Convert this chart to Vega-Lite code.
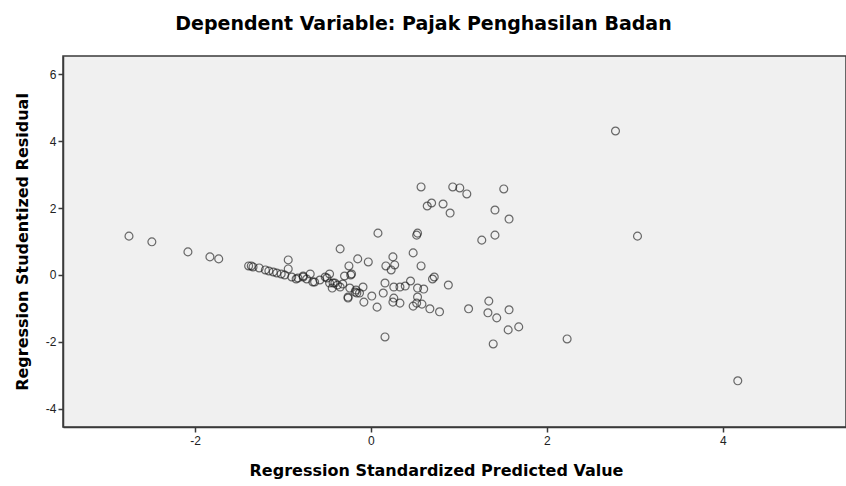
{
  "$schema": "https://vega.github.io/schema/vega-lite/v6.json",
  "width": 783,
  "height": 371,
  "autosize": {"type": "none"},
  "padding": {"left": 63, "top": 56, "right": 0, "bottom": 59},
  "background": "white",
  "title": {
    "text": "Dependent Variable: Pajak Penghasilan Badan",
    "font": "DejaVu Sans",
    "fontSize": 19,
    "fontWeight": "bold",
    "color": "#000000",
    "anchor": "middle",
    "frame": "group",
    "dx": -31,
    "offset": 22
  },
  "config": {
    "view": {"fill": "#f0f0f0", "stroke": "#3a3a3a", "strokeWidth": 1.5},
    "axis": {
      "labelFont": "Liberation Sans",
      "labelFontSize": 12,
      "labelColor": "#222222",
      "titleFont": "DejaVu Sans",
      "titleFontWeight": "bold",
      "titleColor": "#000000",
      "grid": false,
      "domainColor": "#3a3a3a",
      "domainWidth": 1.5,
      "tickColor": "#3a3a3a",
      "tickWidth": 1.5,
      "tickSize": 5,
      "labelExpr": "'' + datum.value"
    }
  },
  "data": {
    "values": [
      {"pred": -2.75, "resid": 1.16}, {"pred": -2.49, "resid": 0.99}, {"pred": -2.08, "resid": 0.69},
      {"pred": -1.83, "resid": 0.54}, {"pred": -1.73, "resid": 0.48}, {"pred": -1.39, "resid": 0.27},
      {"pred": -1.36, "resid": 0.27}, {"pred": -1.34, "resid": 0.24}, {"pred": -1.27, "resid": 0.21},
      {"pred": -1.16, "resid": 0.12}, {"pred": -1.11, "resid": 0.09}, {"pred": -1.07, "resid": 0.06},
      {"pred": -1.02, "resid": 0.03}, {"pred": -0.98, "resid": 0.0}, {"pred": -0.94, "resid": 0.45},
      {"pred": -0.94, "resid": 0.18}, {"pred": -0.83, "resid": -0.09}, {"pred": -0.77, "resid": -0.06},
      {"pred": -0.77, "resid": -0.03}, {"pred": -0.69, "resid": 0.03}, {"pred": -0.66, "resid": -0.21},
      {"pred": -0.64, "resid": -0.21}, {"pred": -0.52, "resid": -0.06}, {"pred": -0.5, "resid": -0.09},
      {"pred": -0.47, "resid": 0.03}, {"pred": -0.44, "resid": -0.39}, {"pred": -0.43, "resid": -0.24},
      {"pred": -0.41, "resid": -0.24}, {"pred": -0.35, "resid": 0.78}, {"pred": -0.35, "resid": -0.36},
      {"pred": -0.3, "resid": -0.03}, {"pred": -0.25, "resid": 0.27}, {"pred": -0.23, "resid": 0.0},
      {"pred": -0.22, "resid": 0.03}, {"pred": -0.24, "resid": -0.39}, {"pred": -0.18, "resid": -0.51},
      {"pred": -0.16, "resid": -0.54}, {"pred": -0.15, "resid": 0.48}, {"pred": -0.13, "resid": -0.54},
      {"pred": -0.09, "resid": -0.36}, {"pred": -0.08, "resid": -0.81}, {"pred": -0.03, "resid": 0.39},
      {"pred": 0.01, "resid": -0.63}, {"pred": 0.08, "resid": 1.25}, {"pred": 0.07, "resid": -0.96},
      {"pred": 0.14, "resid": -0.54}, {"pred": 0.16, "resid": -0.24}, {"pred": 0.17, "resid": 0.27},
      {"pred": 0.23, "resid": 0.15}, {"pred": 0.25, "resid": 0.54}, {"pred": 0.27, "resid": 0.3},
      {"pred": 0.26, "resid": -0.36}, {"pred": 0.25, "resid": -0.81}, {"pred": 0.26, "resid": -0.69},
      {"pred": 0.33, "resid": -0.36}, {"pred": 0.33, "resid": -0.84}, {"pred": 0.39, "resid": -0.33},
      {"pred": 0.45, "resid": -0.18}, {"pred": 0.48, "resid": 0.66}, {"pred": 0.48, "resid": -0.93},
      {"pred": 0.52, "resid": 1.19}, {"pred": 0.53, "resid": 1.25}, {"pred": 0.52, "resid": -0.84},
      {"pred": 0.53, "resid": -0.39}, {"pred": 0.53, "resid": -0.66}, {"pred": 0.57, "resid": 2.63},
      {"pred": 0.57, "resid": 0.27}, {"pred": 0.58, "resid": -0.87}, {"pred": 0.6, "resid": -0.42},
      {"pred": 0.64, "resid": 2.06}, {"pred": 0.67, "resid": -1.01}, {"pred": 0.69, "resid": 2.15},
      {"pred": 0.7, "resid": -0.12}, {"pred": 0.72, "resid": -0.06}, {"pred": 0.78, "resid": -1.1},
      {"pred": 0.82, "resid": 2.12}, {"pred": 0.88, "resid": -0.3}, {"pred": 0.9, "resid": 1.85},
      {"pred": 0.93, "resid": 2.63}, {"pred": 1.01, "resid": 2.6}, {"pred": 1.09, "resid": 2.42},
      {"pred": 1.11, "resid": -1.01}, {"pred": 1.26, "resid": 1.04}, {"pred": 1.33, "resid": -1.13},
      {"pred": 1.34, "resid": -0.78}, {"pred": 1.39, "resid": -2.06}, {"pred": 1.41, "resid": 1.94},
      {"pred": 1.41, "resid": 1.19}, {"pred": 1.43, "resid": -1.28}, {"pred": 1.51, "resid": 2.57},
      {"pred": 1.56, "resid": -1.64}, {"pred": 1.57, "resid": 1.67}, {"pred": 1.57, "resid": -1.04},
      {"pred": 1.68, "resid": -1.55}, {"pred": 0.16, "resid": -1.85}, {"pred": 2.23, "resid": -1.91},
      {"pred": 2.78, "resid": 4.3}, {"pred": 3.03, "resid": 1.16}, {"pred": 4.17, "resid": -3.16},
      {"pred": -0.26, "resid": -0.69}, {"pred": -0.26, "resid": -0.66}, {"pred": -1.2, "resid": 0.15},
      {"pred": -0.9, "resid": -0.06}, {"pred": -0.58, "resid": -0.15}, {"pred": -0.38, "resid": -0.3},
      {"pred": -0.32, "resid": -0.27}, {"pred": -0.17, "resid": -0.45}, {"pred": -0.85, "resid": -0.12},
      {"pred": -0.47, "resid": -0.24}, {"pred": -0.73, "resid": -0.12}
    ]
  },
  "mark": {"type": "point", "shape": "circle", "filled": false, "size": 62, "stroke": "#1a1a1a", "strokeWidth": 1.2, "strokeOpacity": 0.9},
  "encoding": {
    "x": {
      "field": "pred",
      "type": "quantitative",
      "scale": {"domain": [-3.5, 5.4], "nice": false, "zero": false},
      "axis": {"values": [-2, 0, 2, 4], "title": "Regression Standardized Predicted Value", "titleFontSize": 16, "titleX": 373, "titleY": 35, "titleBaseline": "top", "labelPadding": 3}
    },
    "y": {
      "field": "resid",
      "type": "quantitative",
      "scale": {"domain": [-4.54, 6.54], "nice": false, "zero": false},
      "axis": {"values": [-4, -2, 0, 2, 4, 6], "title": "Regression Studentized Residual", "titleFontSize": 16, "titlePadding": 15, "labelPadding": 2}
    }
  }
}
